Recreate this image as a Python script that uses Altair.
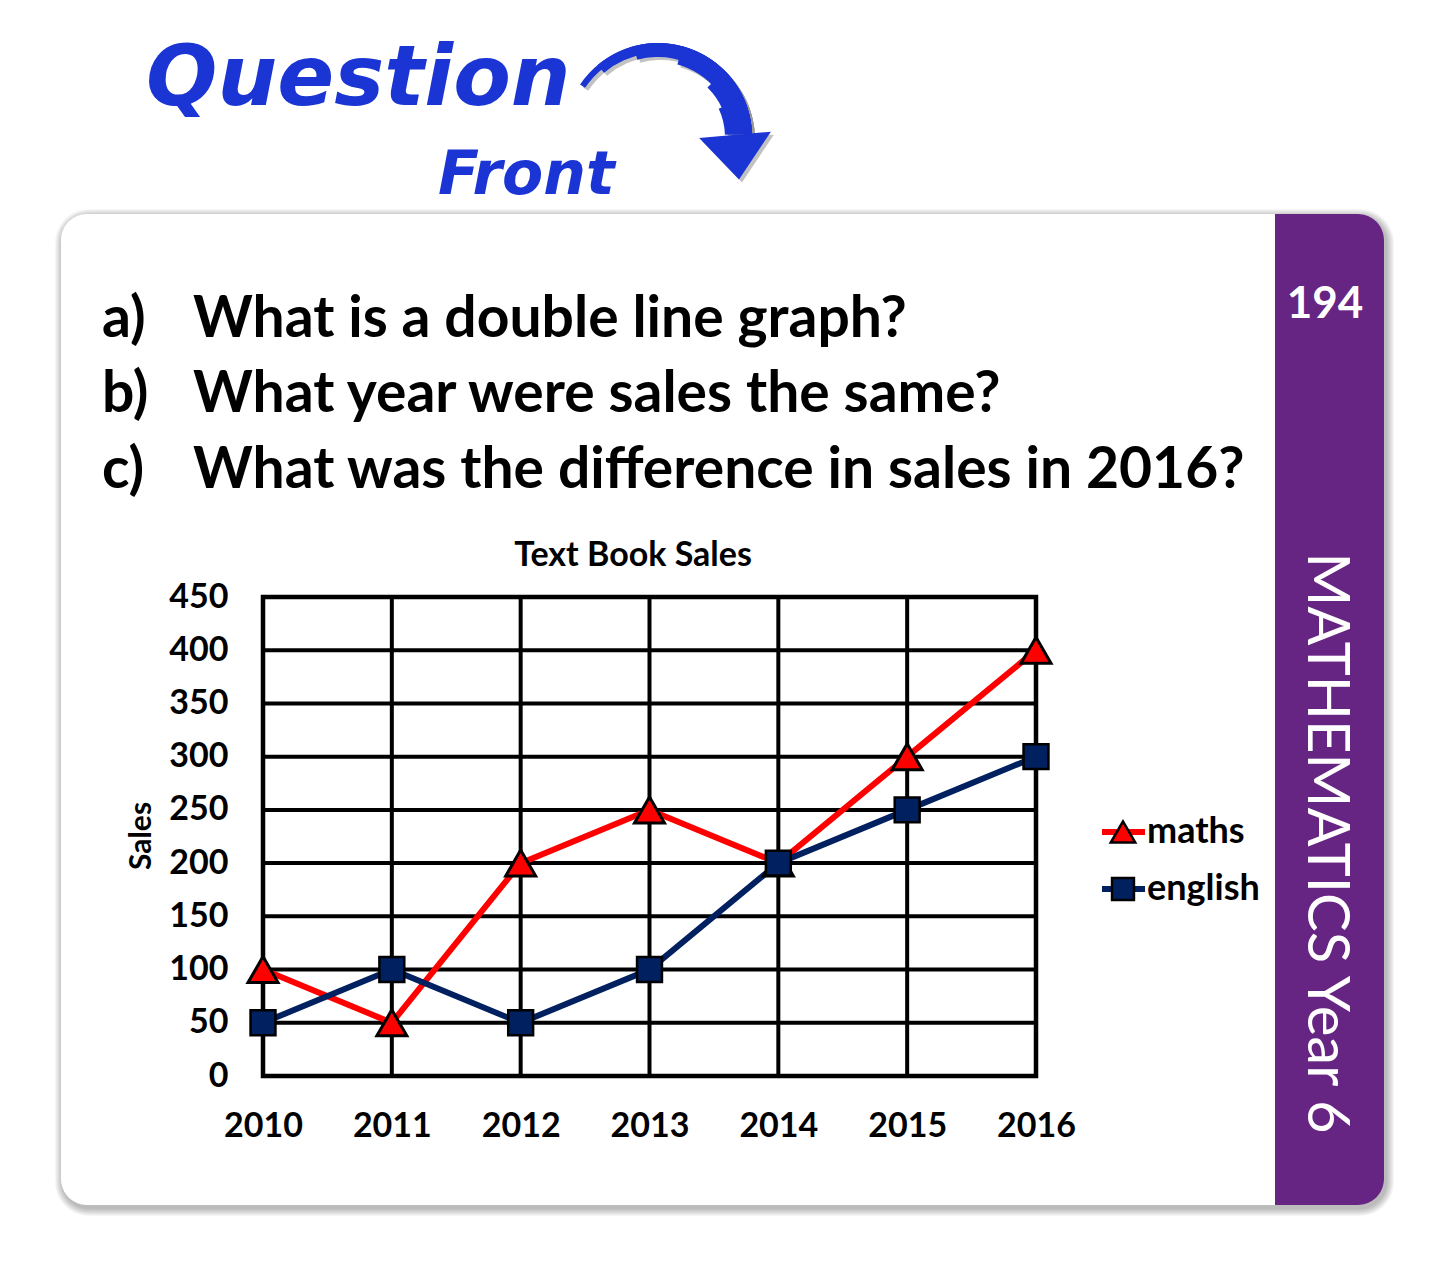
import altair as alt
import pandas as pd
import math

# ---- data ----
years = [2010, 2011, 2012, 2013, 2014, 2015, 2016]
maths = [100, 50, 200, 250, 200, 300, 400]
english = [50, 100, 50, 100, 200, 250, 300]
series_names = ["maths", "english"]
series_colors = ["#ff0000", "#002060"]
y_ticks = [0, 50, 100, 150, 200, 250, 300, 350, 400, 450]

questions_labels = ["a)", "b)", "c)"]
questions_text = [
    "What is a double line graph?",
    "What year were sales the same?",
    "What was the difference in sales in 2016?",
]

df = pd.DataFrame(
    [{"year": y, "series": "maths", "sales": v} for y, v in zip(years, maths)]
    + [{"year": y, "series": "english", "sales": v} for y, v in zip(years, english)]
)
df_years = pd.DataFrame({"year": years})
df_ticks = pd.DataFrame({"sales": y_ticks})

# plot area in page pixels
OX, OY = 263, 597
PW, PH = 773, 479
FONT = "Lato"
BLUE = "#1a35d4"
PURPLE = "#662483"


def px(X):
    return X - OX


def py(Y):
    return Y - OY


one = alt.Data(values=[{}])


def rect(x1, y1, x2, y2, **kw):
    return alt.Chart(one).mark_rect(**kw).encode(
        x=alt.value(px(x1)), x2=alt.value(px(x2)), y=alt.value(py(y1)), y2=alt.value(py(y2))
    )


def text(t, X, Y, font=FONT, **kw):
    return alt.Chart(one).mark_text(text=t, font=font, **kw).encode(
        x=alt.value(px(X)), y=alt.value(py(Y))
    )


layers = []

# card shadow
for i in range(8, 0, -1):
    layers.append(rect(61 - i + 2, 214 - i + 3, 1384 + i + 2, 1205 + i + 3,
                       color="#000000", opacity=0.035, cornerRadius=26 + i))
# card
layers.append(rect(61, 214, 1384, 1205, color="white", cornerRadius=26))
# purple band
layers.append(rect(1275, 214, 1384, 1205, color=PURPLE,
                   cornerRadiusTopRight=26, cornerRadiusBottomRight=26))

# header "Question Front"
layers.append(text("Question", 146, 105, font="DejaVu Sans", fontSize=84,
                   fontWeight="bold", fontStyle="italic", color=BLUE,
                   align="left", baseline="alphabetic"))
layers.append(text("Front", 438, 194, font="DejaVu Sans", fontSize=60,
                   fontWeight="bold", fontStyle="italic", color=BLUE,
                   align="left", baseline="alphabetic"))

# curved arrow (tapered by stacked arcs) with soft shadow
CX, CY = 658, 137
R_OUT = 94
arc_specs = [(304, 6), (320, 10), (345, 14), (375, 19), (405, 24), (425, 27)]
END = 448
for dx, dy, col, op in [(3, 3, "#999999", 0.6), (0, 0, BLUE, 1.0)]:
    for t1, thick in arc_specs:
        layers.append(
            alt.Chart(one).mark_arc(theta=math.radians(t1), theta2=math.radians(END),
                                    radius=R_OUT, radius2=R_OUT - thick,
                                    color=col, opacity=op)
            .encode(x=alt.value(px(CX + dx)), y=alt.value(py(CY + dy)))
        )
    layers.append(
        alt.Chart(one).mark_point(shape="M -1 -0.62 L 1 -0.62 L 0 0.63 Z", filled=True,
                                  size=5184, color=col, opacity=op, angle=355)
        .encode(x=alt.value(px(737 + dx)), y=alt.value(py(157 + dy)))
    )

# questions
Q_SIZE = 57
for i, (lab, q) in enumerate(zip(questions_labels, questions_text)):
    base = [337, 412, 488][i]
    layers.append(text(lab, 102, base, fontSize=Q_SIZE, fontWeight="bold", color="black",
                       align="left", baseline="alphabetic"))
    layers.append(text(q, 193, base, fontSize=Q_SIZE, fontWeight="bold", color="black",
                       align="left", baseline="alphabetic"))

# purple band texts
layers.append(text("194", 1325, 318, fontSize=44, fontWeight="bold", color="white",
                   align="center", baseline="alphabetic"))
layers.append(text("MATHEMATICS Year 6", 1325, 843, fontSize=58, fontWeight="normal",
                   color="white", align="center", baseline="middle", angle=90))

# chart title and axis title
layers.append(text("Text Book Sales", 633, 556, fontSize=34, fontWeight="bold",
                   color="black", align="center", baseline="middle"))
layers.append(text("Sales", 142, 836, fontSize=30, fontWeight="bold", color="black",
                   align="center", baseline="middle", angle=270))

# ---- data layers ----
xscale = alt.Scale(domain=[2010, 2016], nice=False)
yscale = alt.Scale(domain=[0, 450], nice=False)
xenc = alt.X("year:Q", scale=xscale,
             axis=alt.Axis(values=years, format="d", title=None, labelFontSize=34,
                           labelFont=FONT, labelFontWeight="bold", labelColor="black",
                           labelPadding=33, ticks=False, domain=False, grid=False,
                           labelFlush=False, zindex=1))
yenc = alt.Y("sales:Q", scale=yscale,
             axis=alt.Axis(values=y_ticks, title=None, labelFontSize=34,
                           labelFont=FONT, labelFontWeight="bold", labelColor="black",
                           labelPadding=35, ticks=False, domain=False, grid=False,
                           labelFlush=False, zindex=1))
color_scale = alt.Scale(domain=series_names, range=series_colors)

vgrid = alt.Chart(df_years).mark_rule(color="black", strokeWidth=4).encode(
    x=alt.X("year:Q", scale=xscale))
hgrid = alt.Chart(df_ticks).mark_rule(color="black", strokeWidth=4).encode(
    y=alt.Y("sales:Q", scale=yscale))
frame = rect(OX, OY, OX + PW, OY + PH, fill="transparent", stroke="black", strokeWidth=4.5)

base = alt.Chart(df)
lines_m = base.transform_filter(alt.datum.series == "maths").mark_line(strokeWidth=6).encode(
    x=xenc, y=yenc, color=alt.Color("series:N", scale=color_scale, legend=None))
lines_e = base.transform_filter(alt.datum.series == "english").mark_line(strokeWidth=6).encode(
    x=xenc, y=yenc, color=alt.Color("series:N", scale=color_scale, legend=None))
pts_m = base.transform_filter(alt.datum.series == "maths").mark_point(
    shape="triangle-up", filled=True, size=900, stroke="black", strokeWidth=3, opacity=1
).encode(x=xenc, y=yenc, fill=alt.Fill("series:N", scale=color_scale, legend=None))
pts_e = base.transform_filter(alt.datum.series == "english").mark_point(
    shape="square", filled=True, size=620, stroke="black", strokeWidth=2.5, opacity=1
).encode(x=xenc, y=yenc, fill=alt.Fill("series:N", scale=color_scale, legend=None))

# legend (drawn manually)
leg = []
for name, col, shp, sz, Y in [("maths", series_colors[0], "triangle-up", 600, 832),
                               ("english", series_colors[1], "square", 480, 889)]:
    leg.append(alt.Chart(one).mark_rule(color=col, strokeWidth=6).encode(
        x=alt.value(px(1102)), x2=alt.value(px(1145)), y=alt.value(py(Y))))
    leg.append(alt.Chart(one).mark_point(shape=shp, filled=True, size=sz, fill=col,
                                         stroke="black", strokeWidth=2.5, opacity=1)
               .encode(x=alt.value(px(1123)), y=alt.value(py(Y))))
    leg.append(text(name, 1147, Y, fontSize=36, fontWeight="bold", color="black",
                    align="left", baseline="middle"))

chart = alt.layer(
    *layers, vgrid, hgrid, frame, lines_m, lines_e, pts_m, pts_e, *leg
).properties(
    width=PW, height=PH,
    padding={"left": OX - 8, "top": OY - 8, "right": 1429 - (OX - 8) - PW,
             "bottom": 1251 - (OY - 8) - PH},
    autosize=alt.AutoSizeParams(type="none"),
    background="white",
).configure_view(stroke=None)

chart.save("out.html", embed_options={"renderer": "svg", "actions": False})
